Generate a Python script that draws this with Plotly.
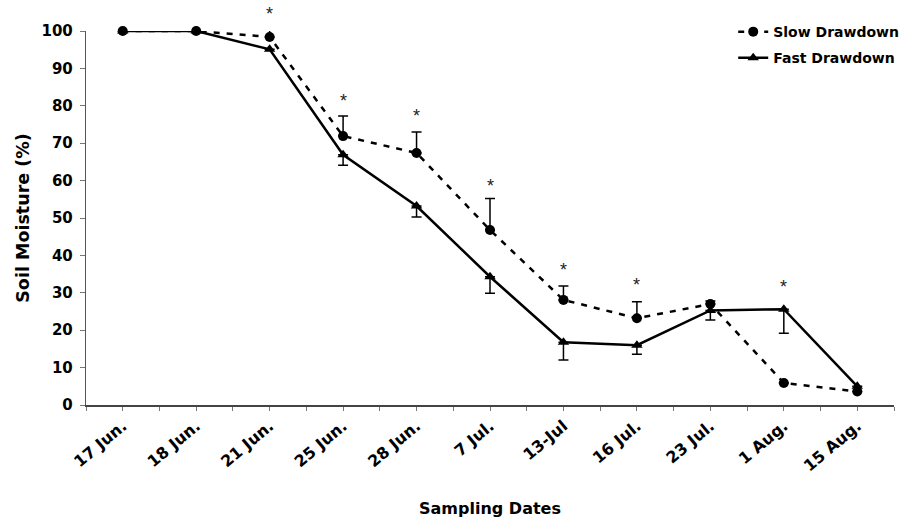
import plotly.graph_objects as go

dates = ["17 Jun.", "18 Jun.", "21 Jun.", "25 Jun.", "28 Jun.", "7 Jul.",
         "13-Jul", "16 Jul.", "23 Jul.", "1 Aug.", "15 Aug."]

slow = [100, 100, 98.4, 71.9, 67.4, 46.8, 28.1, 23.2, 27.0, 5.9, 3.6]
slow_err_plus = [None, None, 2.5, 5.4, 5.6, 8.4, 3.7, 4.4, 0.8, None, None]

fast = [100, 100, 95.1, 66.9, 53.2, 34.3, 16.8, 16.0, 25.3, 25.6, 5.0]
fast_err_minus = [None, None, None, 2.8, 2.9, 4.4, 4.8, 2.4, 2.6, 6.4, None]

star_x = ["21 Jun.", "25 Jun.", "28 Jun.", "7 Jul.", "13-Jul", "16 Jul.", "1 Aug."]
star_y = [104.6, 81.3, 77.2, 58.6, 36.0, 32.0, 31.6]

y_ticks = [0, 10, 20, 30, 40, 50, 60, 70, 80, 90, 100]
Y_RANGE = [0, 100]

xi = list(range(len(dates)))
star_xi = [dates.index(d) for d in star_x]

FONT = "DejaVu Sans, Liberation Sans, Arial, sans-serif"

fig = go.Figure()

fig.add_trace(go.Scatter(
    x=xi, y=slow, name="Slow Drawdown", mode="lines+markers",
    line=dict(color="black", width=2.5, dash="6px,7px"),
    marker=dict(symbol="circle", size=10, color="black"),
    error_y=dict(type="data", array=slow_err_plus,
                 arrayminus=[None] * len(slow), symmetric=False,
                 color="black", thickness=1.5, width=5),
    cliponaxis=False, legendgroup="a", hoverinfo="skip",
))

fig.add_trace(go.Scatter(
    x=xi, y=fast, name="Fast Drawdown", mode="lines+markers",
    line=dict(color="black", width=2.5),
    marker=dict(symbol="triangle-up", size=10, color="black"),
    error_y=dict(type="data", array=[None] * len(fast),
                 arrayminus=fast_err_minus, symmetric=False,
                 color="black", thickness=1.5, width=5),
    cliponaxis=False, legendgroup="b", hoverinfo="skip",
))

# significance asterisks; y given in paper units relative to the y-axis range
annotations = [
    dict(x=sx, y=(sy - Y_RANGE[0]) / (Y_RANGE[1] - Y_RANGE[0]),
         xref="x", yref="paper", text="*", showarrow=False,
         font=dict(family="Liberation Sans, Arial, sans-serif", size=18, color="#222"),
         xanchor="center", yanchor="middle")
    for sx, sy in zip(star_xi, star_y)
]

minor_vals = [i - 0.5 for i in range(len(dates) + 1)]

fig.update_layout(
    width=905, height=520,
    margin=dict(l=86, r=11, t=31, b=115, autoexpand=False),
    paper_bgcolor="white", plot_bgcolor="white",
    font=dict(family=FONT, color="black"),
    showlegend=True,
    annotations=annotations,
    legend=dict(x=0.801, y=1.04, xanchor="left", yanchor="top",
                font=dict(family=FONT, size=14, color="black", weight="bold"),
                bgcolor="rgba(0,0,0,0)", tracegroupgap=5,
                traceorder="grouped"),
    xaxis=dict(
        range=[-0.5, len(dates) - 0.5], automargin=False,
        tickmode="array", tickvals=xi, ticktext=dates,
        tickangle=-40,
        tickfont=dict(family=FONT, size=16, weight="bold", color="black"),
        ticks="outside", ticklen=4, tickcolor="#777", tickwidth=1,
        minor=dict(tickmode="array", tickvals=minor_vals, ticks="outside",
                   ticklen=4, tickcolor="#777", tickwidth=1),
        showline=True, linecolor="#444", linewidth=1.5,
        showgrid=False, zeroline=False,
        title=dict(text="Sampling Dates",
                   font=dict(family=FONT, size=16, weight="bold", color="black"),
                   standoff=28),
    ),
    yaxis=dict(
        range=Y_RANGE, tickmode="array", tickvals=y_ticks, automargin=False,
        tickfont=dict(family=FONT, size=15, weight="bold", color="black"),
        ticks="outside", ticklen=5, tickcolor="#777", tickwidth=1,
        ticklabelstandoff=4,
        showline=True, linecolor="#555", linewidth=1.2,
        showgrid=False, zeroline=False,
        title=dict(text="Soil Moisture (%)",
                   font=dict(family=FONT, size=17.5, weight="bold", color="black"),
                   standoff=7),
    ),
)

fig.write_html("out.html",
               config={"displayModeBar": False, "staticPlot": True},
               post_script="document.body.style.margin='0';document.body.style.overflow='hidden';")
